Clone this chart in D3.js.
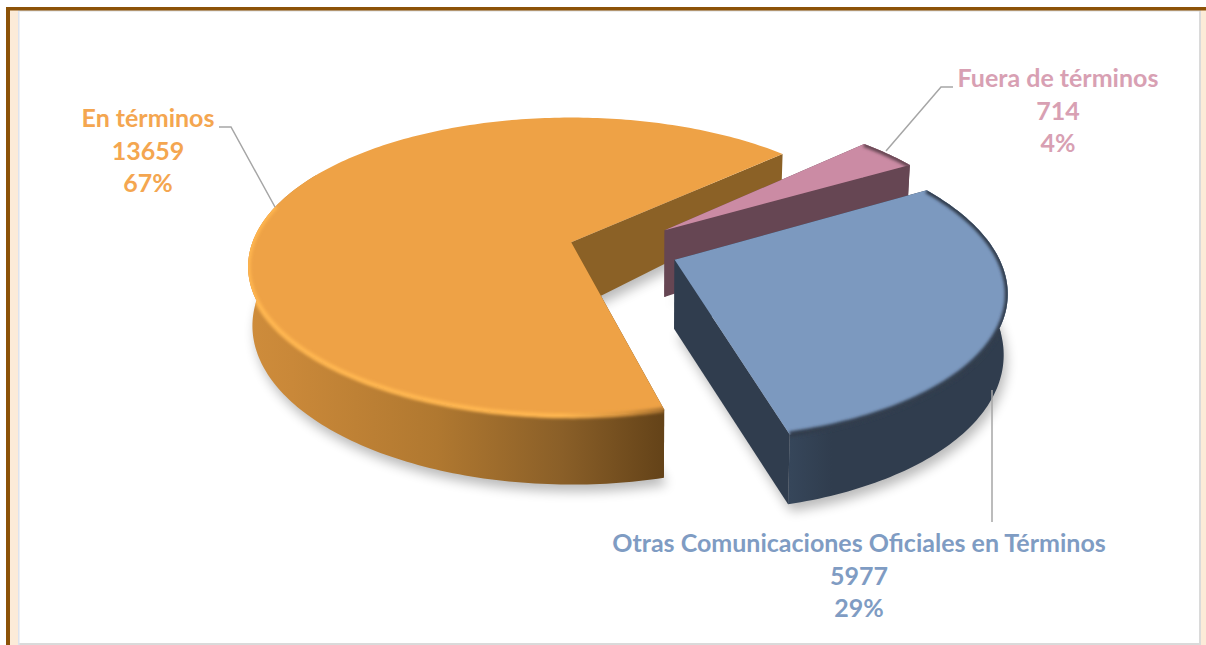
<!DOCTYPE html>
<html>
<head>
<meta charset="utf-8">
<script src="https://cdn.jsdelivr.net/npm/d3@7/dist/d3.min.js"></script>
<style>
html,body{margin:0;padding:0;background:#fff;overflow:hidden}
svg{display:block}
text{font-family:Lato,"Open Sans",sans-serif;font-weight:700;text-anchor:middle}
</style>
</head>
<body>
<svg id="c" width="1206" height="645"></svg>
<script>
const categories = ["En términos", "Fuera de términos", "Otras Comunicaciones Oficiales en Términos"];
const values = [13659, 714, 5977];
const percents = ["67%", "4%", "29%"];
const explosion = [0.135, 0.208, 0.205];
const topColors = ["#EEA246", "#CB8BA4", "#7C99BF"];
const wallColors = ["#8B6126", "#664653", "#303D4E"];
const textColors = ["#F4A650", "#D8A0B3", "#7F9CC3"];

const W = 1206, H = 645;
const svg = d3.select("#c");
const defs = svg.append("defs");

// ---- frame
const frame = svg.append("g");
frame.append("rect").attr("x",10).attr("y",10).attr("width",W-10).attr("height",H-10).attr("fill","#FCEBD8");
frame.append("rect").attr("x",18).attr("y",10).attr("width",1183).attr("height",H-10).attr("fill","#DADADA");
frame.append("rect").attr("x",18).attr("y",10).attr("width",1.5).attr("height",H-10).attr("fill","#DDE3EE");
frame.append("rect").attr("x",19.5).attr("y",11.5).attr("width",1179.5).attr("height",631.5).attr("fill","#fff");
frame.append("rect").attr("x",6).attr("y",7).attr("width",4).attr("height",H-7).attr("fill","#8C5207");
frame.append("rect").attr("x",6).attr("y",7).attr("width",W-6).attr("height",3.5).attr("fill","#8C5207");

// ---- projection of the tilted disc
const R = 319, RK = 145.4, P = 0.1636, DEPTH = 57.5, OX = 571, OY = 243;
const VX = 640, SHRINK = 0.011, APEX_Z = 1.18;
const shift = [0.13, 0.034];
const sx = d3.scaleLinear().domain([0, 1]).range([0, R]);
const sy = d3.scaleLinear().domain([0, 1]).range([0, RK]);
function project(u, v, z) {
  const s = 1 / (1 - P * v);
  let X = OX + sx(u) * s;
  const Y = OY + sy(v) * s + DEPTH * s * z;
  X = VX + (X - VX) * (1 - SHRINK * z);
  return [X, Y];
}
const line = d3.line();
const deg = Math.PI / 180;
const pie = d3.pie().sort(null).startAngle(165.8 * deg).endAngle((165.8 + 360) * deg);
const arcs = pie(values);

function origin(d, i) {
  const mid = (d.startAngle + d.endAngle) / 2;
  return [shift[0] + explosion[i] * Math.sin(mid), shift[1] - explosion[i] * Math.cos(mid)];
}
function rimAngles(a0, a1) {
  const n = Math.max(2, Math.ceil((a1 - a0) / deg));
  return d3.range(n + 1).map(k => a0 + (a1 - a0) * k / n);
}
function rim(o, a0, a1, z) {
  return rimAngles(a0, a1).map(t => project(o[0] + Math.sin(t), o[1] - Math.cos(t), z));
}
function wedge(d, i, z) {
  const o = origin(d, i);
  return line([project(o[0], o[1], z * APEX_Z), ...rim(o, d.startAngle, d.endAngle, z)]) + "Z";
}
function radialWall(d, i, t) {
  const o = origin(d, i);
  const e = [o[0] + Math.sin(t), o[1] - Math.cos(t)];
  return line([project(o[0], o[1], 0), project(e[0], e[1], 0), project(e[0], e[1], 1), project(o[0], o[1], APEX_Z)]) + "Z";
}
function outerWall(d, i, a0, a1) {
  const o = origin(d, i);
  return line([...rim(o, a0, a1, 0), ...rim(o, a0, a1, 1).reverse()]) + "Z";
}

// ---- filters and gradients
const blurShadow = defs.append("filter").attr("id","shadow").attr("x","-20%").attr("y","-20%").attr("width","140%").attr("height","140%");
blurShadow.append("feGaussianBlur").attr("stdDeviation",6);
const blurRim = defs.append("filter").attr("id","rimblur").attr("filterUnits","userSpaceOnUse").attr("x",0).attr("y",0).attr("width",W).attr("height",H);
blurRim.append("feGaussianBlur").attr("stdDeviation",1.6);

function hGrad(id, x1, x2, stops) {
  const g = defs.append("linearGradient").attr("id",id).attr("gradientUnits","userSpaceOnUse")
    .attr("x1",x1).attr("x2",x2).attr("y1",0).attr("y2",0);
  stops.forEach(s => g.append("stop").attr("offset",s[0]).attr("stop-color",s[1]));
}
hGrad("wall0", 250, 666, [[0,"#CE8C3B"],[0.1,"#C98839"],[0.45,"#B07830"],[0.75,"#8A5F28"],[1,"#634218"]]);
hGrad("wall2", 790, 1000, [[0,"#36465A"],[0.2,"#303D4E"],[1,"#303D4E"]]);
hGrad("rim0", 250, 666, [[0,"#FFB650"],[0.75,"#FFB650"],[0.9,"#D9953F"],[1,"#A87230"]]);

const pieG = svg.append("g");

// shadows under all slices
pieG.selectAll("path.shadow").data(arcs).join("path").attr("class","shadow")
  .attr("d",(d,i)=>wedge(d,i,1)).attr("transform","translate(3,7)")
  .attr("fill","#000").attr("opacity",0.27).attr("filter","url(#shadow)");

// slices, back to front in pie order
const frontLimit = [300, 1000, 1000];
arcs.forEach((d,i)=>{
  const g = pieG.append("g");
  const clipId = "clip"+i;
  const wallEnd = Math.min(d.endAngle, frontLimit[i]*deg);
  const cp = defs.append("clipPath").attr("id",clipId);
  cp.append("path").attr("d",wedge(d,i,0));
  cp.append("path").attr("d",outerWall(d,i,d.startAngle,wallEnd));

  g.append("path").attr("d",radialWall(d,i,d.startAngle)).attr("fill",i===0?"#634218":wallColors[i]);
  g.append("path").attr("d",outerWall(d,i,d.startAngle,wallEnd))
    .attr("fill",i===0?"url(#wall0)":i===2?"url(#wall2)":wallColors[i]);
  g.append("path").attr("d",radialWall(d,i,d.endAngle)).attr("fill",wallColors[i]);
  g.append("path").attr("d",wedge(d,i,0)).attr("fill",topColors[i]);

  const o = origin(d,i);
  const gc = g.append("g").attr("clip-path","url(#"+clipId+")");
  if(i===0){
    // light bevel along the front of the rim
    gc.append("path").attr("d",line(rim(o,d.startAngle,285*deg,0))).attr("fill","none")
      .attr("stroke","url(#rim0)").attr("stroke-width",5).attr("filter","url(#rimblur)");
  } else {
    gc.append("path").attr("d",line(rim(o,d.startAngle,d.endAngle,0))).attr("fill","none")
      .attr("stroke",wallColors[i]).attr("stroke-width",6).attr("filter","url(#rimblur)");
  }
});

// ---- leader lines and labels
const leaders = [
  [[219,127],[231,127],[275,207]],
  [[953,87],[941,87],[886,151]],
  [[992,390],[992,522]]
];
const labelAnchors = [[148,127],[1058,87],[859,552]];
const LINE = 32.5;
const lab = svg.append("g");
leaders.forEach(l=>lab.append("path").attr("d",line(l)).attr("fill","none").attr("stroke","#A6A6A6").attr("stroke-width",1.5));
categories.forEach((c,i)=>{
  const t = lab.append("text").attr("x",labelAnchors[i][0]).attr("y",labelAnchors[i][1])
    .attr("font-size",25).attr("fill",textColors[i]);
  [c, String(values[i]), percents[i]].forEach((s,k)=>{
    t.append("tspan").attr("x",labelAnchors[i][0]).attr("dy",k?LINE:0).text(s);
  });
});
</script>
</body>
</html>
